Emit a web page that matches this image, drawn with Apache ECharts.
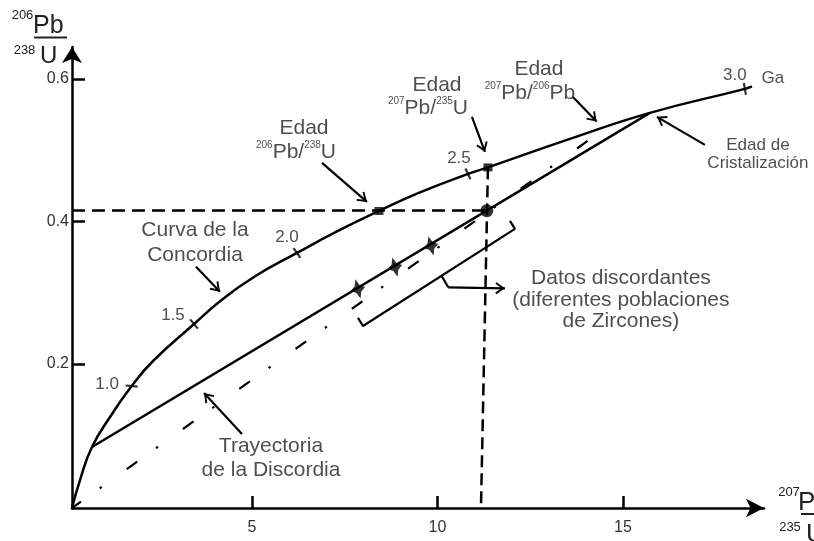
<!DOCTYPE html>
<html><head><meta charset="utf-8">
<script src="https://cdn.jsdelivr.net/npm/echarts@6/dist/echarts.min.js"></script>
<style>html,body{margin:0;padding:0;background:#fff;}#c{width:814px;height:541px;}</style>
</head><body><div id="c"></div>
<script>
// ---- data ----
const xTicks = [5, 10, 15];
const yTicks = [0.2, 0.4, 0.6];
const concordia = [[0.148,-0.002],[0.364,0.0372],[0.687,0.0835],[1.173,0.1256],[1.757,0.1691],[2.332,0.2042],[3.437,0.2561],[4.164,0.2891],[5.054,0.3221],[6.213,0.3558],[7.318,0.3867],[8.423,0.4147],[9.528,0.4407],[10.822,0.4667],[11.361,0.4758],[13.571,0.5158],[15.728,0.5523],[18.288,0.586],[18.477,0.5895]];
const ageTickPoints = [[1.757,0.1691],[3.437,0.2561],[6.213,0.3558],[10.822,0.4667],[18.288,0.586]];
const ageTickLabels = ['1.0','1.5','2.0','2.5','3.0','Ga'];
const discordia = [[0.687,0.0835],[15.728,0.5523]];
const referenceLine = [[0.148,-0.002],[14.164,0.5172]];
const discordantData = [[7.857,0.3053],[8.854,0.336],[9.825,0.3656]];
const interceptPoint = [[11.33,0.415]];
const agePoints = [[8.423,0.4147],[11.361,0.4758]];
const horizGuide = [[0.148,0.4155],[11.33,0.4155]];
const vertGuide = [[11.361,0.4758],[11.173,-0.002]];
const bracket = [[7.857,0.2646],[7.992,0.2533],[12.089,0.3895],[11.954,0.4007]];
const bracketLink = [[10.113,0.3235],[10.291,0.3076]];
const arrows = [
  [[3.491,0.3365],[4.137,0.3015]],
  [[6.887,0.4821],[8.100,0.4274]],
  [[10.93,0.5467],[11.28,0.4975]],
  [[13.652,0.5747],[14.29,0.5401]],
  [[17.21,0.5074],[15.916,0.5467]],
  [[4.730,0.1018],[3.706,0.1593]],
  [[10.291,0.3076],[11.819,0.3062]]
];
const noteTexts = ['Curva de la\nConcordia','Trayectoria\nde la Discordia','Datos discordantes\n(diferentes poblaciones\nde Zircones)','Edad','Edad','Edad'];
const isoTexts = ['{s|206}{m|Pb/}{s|238}{m|U}','{s|207}{m|Pb/}{s|235}{m|U}','{s|207}{m|Pb/}{s|206}{m|Pb}'];
const crystText = 'Edad de\nCristalización';

// ---- annotation anchors & styles ----
const ageTickAngles = [85, 40, 35, 25, 10];
const ageLabelAt = [[1.092,0.1719],[2.871,0.2688],[5.943,0.3782],[10.58,0.4891],[18.019,0.6056],[19.04,0.6014]];
const noteAt = [[3.464,0.3705],[5.512,0.0681],[14.946,0.2898],[6.402,0.5312],[9.987,0.5916],[12.736,0.614]];
const noteLH = [25,24,21.5,24,24,24];
const isoAt = [[6.186,0.4975],[9.744,0.5593],[12.493,0.5804]];
const crystAt = [18.639,0.4947];

const FONT = 'Liberation Sans, Arial, sans-serif';
const TXT = '#222';
const chevron = 'path://M100,100 L150,171 L136.9,180.2 L100,127.8 L63.1,180.2 L50,171 Z M0,0 L0.4,0 L0,0.4 Z M200,200 L199.6,200 L200,199.6 Z';
const star = 'path://M0,-10 L3.4,-3.4 L10,0 L3.4,3.4 L0,10 L-3.4,3.4 L-10,0 L-3.4,-3.4 Z';

const lineS = (data, w, type, extra) => Object.assign({
  type: 'line', data: data, showSymbol: false, symbol: 'none', silent: true, clip: false,
  lineStyle: {color: '#000', width: w, type: type || 'solid', cap: 'butt'}
}, extra || {});

const labelScatter = (items) => ({
  type: 'scatter', silent: true, clip: false, symbolSize: 1,
  itemStyle: {color: 'rgba(0,0,0,0)'}, data: items, z: 10
});

const chart = echarts.init(document.getElementById('c'), null, {renderer: 'canvas'});
chart.setOption({
  animation: false,
  backgroundColor: '#fff',
  grid: {left: 72, right: 50, top: 47, bottom: 33},
  xAxis: {
    type: 'value', min: 0.148, max: 18.803,
    axisLine: {onZero: false, symbol: ['none','arrow'], symbolSize: [14,18], lineStyle: {color: '#000', width: 2.5}},
    axisTick: {inside: true, length: 12, customValues: xTicks, lineStyle: {color: '#000', width: 2.5}},
    axisLabel: {customValues: xTicks, fontSize: 16, fontFamily: FONT, color: '#333', margin: 12},
    splitLine: {show: false}
  },
  yAxis: {
    type: 'value', min: -0.002, max: 0.6447,
    axisLine: {onZero: false, symbol: ['none','arrow'], symbolSize: [15,16], lineStyle: {color: '#000', width: 2.5}},
    axisTick: {inside: true, length: 13, customValues: yTicks, lineStyle: {color: '#000', width: 2.5}},
    axisLabel: {customValues: yTicks, formatter: v => v.toFixed(1), fontSize: 16, fontFamily: FONT, color: '#333', margin: 3},
    splitLine: {show: false}
  },
  graphic: [
    {type: 'text', x: 22.5, y: 15, style: {text: '206', fontSize: 13, fontFamily: FONT, fill: TXT, align: 'center', verticalAlign: 'middle'}},
    {type: 'text', x: 33, y: 26, style: {text: 'Pb', fontSize: 25, fontFamily: FONT, fill: TXT, align: 'left', verticalAlign: 'middle'}},
    {type: 'rect', shape: {x: 34, y: 36.5, width: 33, height: 2}, style: {fill: '#222'}},
    {type: 'text', x: 24.5, y: 50, style: {text: '238', fontSize: 13, fontFamily: FONT, fill: TXT, align: 'center', verticalAlign: 'middle'}},
    {type: 'text', x: 40, y: 56, style: {text: 'U', fontSize: 24, fontFamily: FONT, fill: TXT, align: 'left', verticalAlign: 'middle'}},
    {type: 'text', x: 789, y: 492, style: {text: '207', fontSize: 13, fontFamily: FONT, fill: TXT, align: 'center', verticalAlign: 'middle'}},
    {type: 'text', x: 798, y: 503, style: {text: 'Pb', fontSize: 26, fontFamily: FONT, fill: TXT, align: 'left', verticalAlign: 'middle'}},
    {type: 'rect', shape: {x: 801, y: 513, width: 20, height: 2}, style: {fill: '#222'}},
    {type: 'text', x: 790, y: 527, style: {text: '235', fontSize: 13, fontFamily: FONT, fill: TXT, align: 'center', verticalAlign: 'middle'}},
    {type: 'text', x: 806, y: 535, style: {text: 'U', fontSize: 26, fontFamily: FONT, fill: TXT, align: 'left', verticalAlign: 'middle'}}
  ],
  series: [
    lineS(concordia, 2.5, 'solid', {smooth: 0.5, z: 3}),
    lineS(discordia, 2.5, 'solid', {z: 3}),
    lineS(referenceLine, 2.2, [13,23,2.5,30.6], {lineStyle: {color: '#000', width: 2.2, type: [13,23,2.5,30.6], dashOffset: 2, cap: 'butt'}}),
    lineS(horizGuide, 2.5, [13,7]),
    lineS(vertGuide, 2.5, [12,6]),
    lineS(bracket, 2.2, 'solid'),
    lineS(bracketLink, 2.2, 'solid'),
    {
      type: 'scatter', silent: true, clip: false, symbol: 'rect', symbolSize: [2.2, 12],
      itemStyle: {color: '#000'}, z: 4,
      data: ageTickPoints.map((p, i) => ({value: p, symbolRotate: ageTickAngles[i]}))
    },
    {type: 'scatter', silent: true, clip: false, symbol: 'rect', symbolSize: [9, 8], itemStyle: {color: '#000'}, z: 5, data: agePoints},
    {type: 'scatter', silent: true, clip: false, symbol: 'circle', symbolSize: 13, itemStyle: {color: '#000'}, z: 5, data: interceptPoint},
    {type: 'scatter', silent: true, clip: false, symbol: star, symbolSize: [15, 20], symbolRotate: 15, itemStyle: {color: '#000'}, z: 5, data: discordantData},
    {
      type: 'lines', coordinateSystem: 'cartesian2d', silent: true, polyline: false,
      symbol: ['none', chevron], symbolSize: 24,
      lineStyle: {color: '#000', width: 2.2, opacity: 1, curveness: 0},
      data: arrows.map(a => ({coords: a})), z: 6
    },
    labelScatter(ageTickLabels.map((t, i) => ({
      value: ageLabelAt[i],
      label: {show: true, position: 'inside', formatter: t, fontSize: 17, fontFamily: FONT, color: TXT, align: 'center', verticalAlign: 'middle'}
    }))),
    labelScatter(noteTexts.map((t, i) => ({
      value: noteAt[i],
      label: {show: true, position: 'inside', formatter: t, fontSize: 21, lineHeight: noteLH[i], fontFamily: FONT, color: TXT, align: 'center', verticalAlign: 'middle'}
    }))),
    labelScatter(isoTexts.map((t, i) => ({
      value: isoAt[i],
      label: {show: true, position: 'inside', formatter: t, align: 'center', verticalAlign: 'middle',
        rich: {
          s: {fontSize: 10, lineHeight: 10, verticalAlign: 'top', fontFamily: FONT, color: TXT},
          m: {fontSize: 21, lineHeight: 24, fontFamily: FONT, color: TXT}
        }}
    }))),
    labelScatter([{value: crystAt, label: {show: true, position: 'inside', formatter: crystText, fontSize: 17, lineHeight: 18, fontFamily: FONT, color: TXT, align: 'center', verticalAlign: 'middle'}}])
  ]
});
</script>
</body></html>
